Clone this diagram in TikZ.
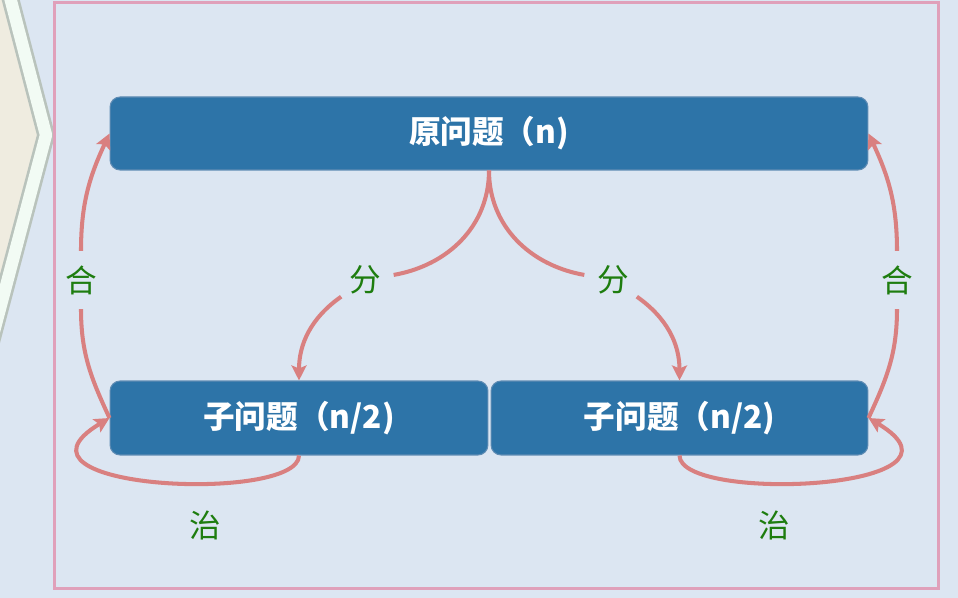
\documentclass[tikz,border=0pt]{standalone}
\usepackage{fontspec}
\usetikzlibrary{arrows.meta}
\newfontfamily\cjkFont{Noto Sans CJK SC}
\newcommand{\pxUnit}[0]{0.02cm}
\newcommand{\textSize}[0]{\fontsize{18}{20}\selectfont}
\definecolor{bgBlue}{RGB}{220,230,242}
\definecolor{boxBlue}{RGB}{45,116,168}
\definecolor{boxEdge}{RGB}{95,140,180}
\definecolor{arrowRed}{RGB}{217,128,128}
\definecolor{labelGreen}{RGB}{30,125,15}
\definecolor{framePink}{RGB}{224,160,186}
\definecolor{chevBeige}{RGB}{239,236,224}
\definecolor{chevGlow}{RGB}{242,251,244}
\definecolor{chevShade}{RGB}{185,195,188}

\begin{document}
\begin{tikzpicture}[x=\pxUnit, y=\pxUnit]
  \tikzset{problem/.style={draw=boxEdge, line width=0.6pt, fill=boxBlue, rounded corners=0.2cm,
                           text=white, inner sep=0pt, font=\cjkFont\bfseries\textSize},
           stepLabel/.style={circle, minimum size=1.15cm, inner sep=0pt, text=labelGreen,
                             font=\cjkFont\textSize},
           link/.style={draw=arrowRed, line width=2.3pt},
           linkTip/.style={link, -{Stealth[length=0.3cm,width=0.3cm,inset=0.06cm]}}}
  \useasboundingbox (0,0) rectangle (958,598);
  \clip (0,0) rectangle (958,598);
  \fill[bgBlue] (0,0) rectangle (958,598);
  % chevron at the left edge
  \fill[chevBeige] (-80,620) -- (5,620) -- (46,463) -- (-21,210) -- (-80,210) -- cycle;
  \draw[chevShade, line width=10pt, line join=round] (5,620) -- (46,463) -- (-21,210);
  \draw[chevGlow, line width=7pt, line join=round] (5,620) -- (46,463) -- (-21,210);
  \draw[framePink, line width=0.06cm] (54.5,595.5) rectangle (938.5,9);
  % problems
  \node[problem, minimum width=15.16cm, minimum height=1.46cm] (p0) at (489,464.5) {原问题（n)};
  \node[problem, minimum width=7.56cm, minimum height=1.48cm] (p1) at (299,180) {子问题（n/2)};
  \node[problem, minimum width=7.54cm, minimum height=1.48cm] (p2) at (679.5,180) {子问题（n/2)};
  % labels
  \node[stepLabel] (fen1) at (365,318) {分};
  \node[stepLabel] (fen2) at (613,318) {分};
  \node[stepLabel] (he1) at (81,318) {合};
  \node[stepLabel] (he2) at (897,318) {合};
  \node[stepLabel] (zhi1) at (205,73) {治};
  \node[stepLabel] (zhi2) at (774,73) {治};
  % divide
  \draw[link] (p0.south) to[out=-90,in=10] (fen1);
  \draw[linkTip] (fen1) to[out=215,in=90] (p1.north);
  \draw[link] (p0.south) to[out=-90,in=170] (fen2);
  \draw[linkTip] (fen2) to[out=-35,in=90] (p2.north);
  % merge
  \draw[link] (p1.west) to[out=115,in=-90] (he1);
  \draw[linkTip] (he1) to[out=90,in=-115] (p0.west);
  \draw[link] (p2.east) to[out=65,in=-90] (he2);
  \draw[linkTip] (he2) to[out=90,in=-65] (p0.east);
  % conquer
  \draw[linkTip] (p1.south) .. controls +(0,-48) and +(-120,-72) .. (p1.west);
  \draw[linkTip] (p2.south) .. controls +(0,-48) and +(120,-72) .. (p2.east);
\end{tikzpicture}
\end{document}
